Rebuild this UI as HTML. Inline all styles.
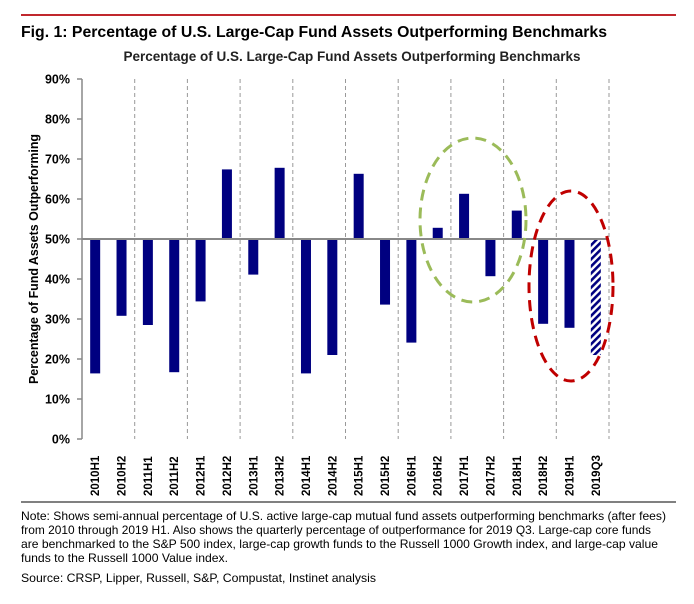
<!DOCTYPE html>
<html><head><meta charset="utf-8"><style>
html,body{margin:0;padding:0;background:#fff;}
svg{display:block;font-family:"Liberation Sans",Arial,sans-serif;}
</style></head><body>
<svg id="chart" width="694" height="604" viewBox="0 0 694 604">
<defs>
<pattern id="hatch" patternUnits="userSpaceOnUse" width="5" height="5" patternTransform="rotate(45)">
<rect width="5" height="5" fill="#fff"/><rect width="2.6" height="5" fill="#000080"/>
</pattern>
</defs>
<line x1="21" y1="15" x2="676" y2="15" stroke="#c0272d" stroke-width="2"/>
<text x="21" y="37" font-size="16" font-weight="bold" fill="#000" textLength="586" lengthAdjust="spacingAndGlyphs">Fig. 1: Percentage of U.S. Large-Cap Fund Assets Outperforming Benchmarks</text>
<text x="352" y="61" font-size="13.5" font-weight="bold" text-anchor="middle" fill="#222" textLength="457" lengthAdjust="spacingAndGlyphs">Percentage of U.S. Large-Cap Fund Assets Outperforming Benchmarks</text>
<text transform="translate(38,259) rotate(-90)" font-size="12.5" font-weight="bold" text-anchor="middle" fill="#000" textLength="250" lengthAdjust="spacingAndGlyphs">Percentage of Fund Assets Outperforming</text>
<g id="grid"></g>
<g id="bars"></g>
<g id="axes"></g>
<ellipse cx="473" cy="220" rx="53" ry="82" fill="none" stroke="#9bbb59" stroke-width="3" stroke-dasharray="11,7"/>
<ellipse cx="571" cy="286" rx="42" ry="95" fill="none" stroke="#c00000" stroke-width="3" stroke-dasharray="11,7"/>
<line x1="21" y1="502" x2="676" y2="502" stroke="#000" stroke-width="1"/>
<g font-size="12" fill="#000">
<text x="21" y="520" textLength="645" lengthAdjust="spacingAndGlyphs">Note: Shows semi-annual percentage of U.S. active large-cap mutual fund assets outperforming benchmarks (after fees)</text>
<text x="21" y="534" textLength="630" lengthAdjust="spacingAndGlyphs">from 2010 through 2019 H1. Also shows the quarterly percentage of outperformance for 2019 Q3. Large-cap core funds</text>
<text x="21" y="548" textLength="637" lengthAdjust="spacingAndGlyphs">are benchmarked to the S&amp;P 500 index, large-cap growth funds to the Russell 1000 Growth index, and large-cap value</text>
<text x="21" y="562" textLength="207" lengthAdjust="spacingAndGlyphs">funds to the Russell 1000 Value index.</text>
</g>
<text x="21" y="582" font-size="12" textLength="355" lengthAdjust="spacingAndGlyphs">Source: CRSP, Lipper, Russell, S&amp;P, Compustat, Instinet analysis</text>
</svg>
<script>
const categories=["2010H1","2010H2","2011H1","2011H2","2012H1","2012H2","2013H1","2013H2","2014H1","2014H2","2015H1","2015H2","2016H1","2016H2","2017H1","2017H2","2018H1","2018H2","2019H1","2019Q3"];
const values=[16.4,30.8,28.5,16.7,34.4,67.4,41.1,67.8,16.4,21,66.3,33.6,24.1,52.8,61.3,40.7,57.1,28.8,27.8,21];
const yTicks=[0,10,20,30,40,50,60,70,80,90];
const hatched=["2019Q3"];
const NS="http://www.w3.org/2000/svg";
const x0=82,x1=609,yTop=79,yBot=439,yMin=0,yMax=90,base=50;
const bw=(x1-x0)/categories.length;
function xs(i){return x0+bw*(i+0.5);}
function ys(v){return yBot-(v-yMin)/(yMax-yMin)*(yBot-yTop);}
function mk(tag,attrs,parent){const e=document.createElementNS(NS,tag);for(const k in attrs)e.setAttribute(k,attrs[k]);parent.appendChild(e);return e;}
const grid=document.getElementById('grid'),bars=document.getElementById('bars'),axes=document.getElementById('axes');
for(let i=2;i<=categories.length;i+=2){
 const gx=x0+bw*i;
 const l=mk('line',{x1:gx,y1:yTop,x2:gx,y2:yBot,stroke:'#999','stroke-width':1,'stroke-dasharray':'4,3'},grid);
 
 
}
categories.forEach((c,i)=>{
 const v=values[i];const y=ys(v),yb=ys(base);
 const r=mk('rect',{x:xs(i)-5,y:Math.min(y,yb),width:10,height:Math.abs(yb-y),fill:hatched.includes(c)?'url(#hatch)':'#000080'},bars);
 
 
 const t=mk('text',{transform:`translate(${xs(i)+4},${496}) rotate(-90)`,'font-size':'11.5','font-weight':'bold',fill:'#000'},axes);
 t.textContent=c;
 
 
});
yTicks.forEach(v=>{
 const y=ys(v);
 mk('line',{x1:x0-5,y1:y,x2:x0,y2:y,stroke:'#888','stroke-width':1.5},axes);
 const t=mk('text',{x:x0-12,y:y+4.5,'font-size':'12.5','font-weight':'bold','text-anchor':'end',fill:'#000'},axes);
 t.textContent=v+'%';
 
 
});
const ya=mk('line',{x1:x0,y1:yTop,x2:x0,y2:yBot,stroke:'#888','stroke-width':1.5},axes);


const bl=mk('line',{x1:x0,y1:ys(base),x2:x1,y2:ys(base),stroke:'#888','stroke-width':2},axes);


</script>
</body></html>
